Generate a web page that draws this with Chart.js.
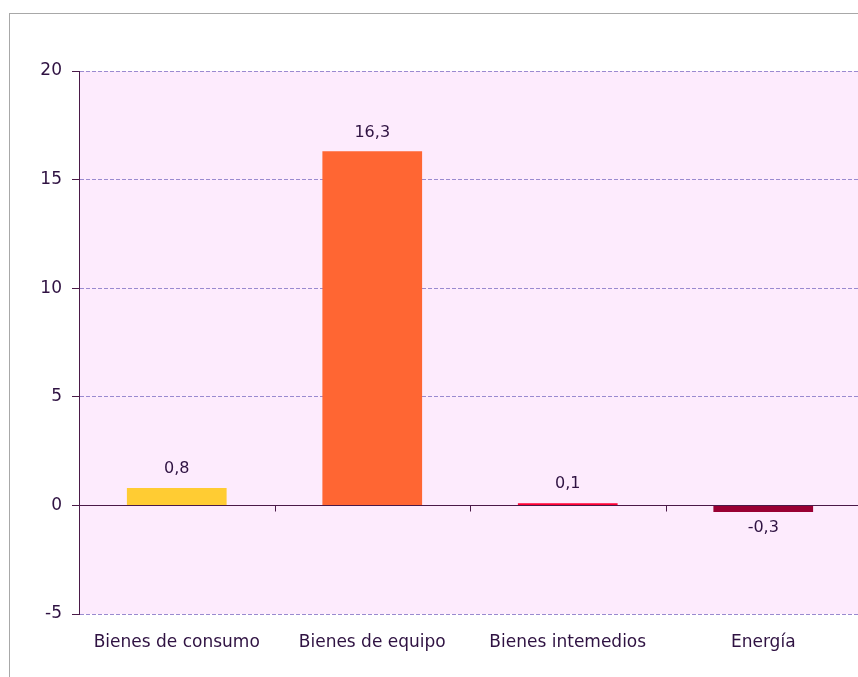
<!DOCTYPE html>
<html>
<head>
<meta charset="utf-8">
<script src="https://cdn.jsdelivr.net/npm/chart.js@4"></script>
<style>
  html, body { margin: 0; padding: 0; background: #fff; overflow: hidden; }
  #frame { position: absolute; left: 9px; top: 13px; width: 900px; height: 700px; border: 1px solid #a8a8a8; }
  #wrap { position: absolute; left: 0; top: 0; width: 875px; height: 677px; }
</style>
</head>
<body>
<div id="frame"></div>
<div id="wrap"><canvas id="chart"></canvas></div>
<script>
const categories = ['Bienes de consumo', 'Bienes de equipo', 'Bienes intemedios', 'Energía'];
const values = [0.8, 16.3, 0.1, -0.3];
const barColors = ['#ffcc33', '#ff6633', '#ff0033', '#990033'];
const yMin = -5, yMax = 20, yStep = 5;

const textColor = '#2f1242';
const axisColor = '#4a1a48';
const gridColor = '#9a8ad0';
const fontFamily = '"DejaVu Sans", Verdana, sans-serif';

// plot background, zero line with category ticks, value labels
const decorations = {
  id: 'decorations',
  beforeDraw(chart) {
    const { ctx, chartArea: a } = chart;
    ctx.save();
    ctx.fillStyle = '#fdebfd';
    ctx.fillRect(a.left, a.top, a.right - a.left, a.bottom - a.top);
    ctx.restore();
  },
  afterDatasetsDraw(chart) {
    const { ctx, chartArea: a } = chart;
    const x = chart.scales.x, y = chart.scales.y;
    const y0 = Math.round(y.getPixelForValue(0)) + 0.5;
    ctx.save();
    ctx.strokeStyle = axisColor;
    ctx.lineWidth = 1;
    ctx.beginPath();
    ctx.moveTo(a.left, y0);
    ctx.lineTo(a.right, y0);
    const half = (x.getPixelForValue(1) - x.getPixelForValue(0)) / 2;
    for (let i = 0; i < categories.length; i++) {
      const bx = Math.round(x.getPixelForValue(i) + half) + 0.5;
      ctx.moveTo(bx, y0);
      ctx.lineTo(bx, y0 + 6);
    }
    ctx.stroke();

    ctx.fillStyle = textColor;
    ctx.font = '16px ' + fontFamily;
    ctx.textAlign = 'center';
    ctx.textBaseline = 'middle';
    chart.getDatasetMeta(0).data.forEach((bar, i) => {
      const v = values[i];
      const label = v.toFixed(1).replace('.', ',');
      const ty = v >= 0 ? bar.y - 19 : bar.y + 16;
      ctx.fillText(label, bar.x, ty);
    });
    ctx.restore();
  }
};

new Chart(document.getElementById('chart'), {
  type: 'bar',
  data: {
    labels: categories,
    datasets: [{
      data: values,
      backgroundColor: barColors,
      borderWidth: 0,
      barPercentage: 1,
      categoryPercentage: 0.51
    }]
  },
  options: {
    responsive: true,
    maintainAspectRatio: false,
    animation: false,
    layout: { padding: { left: 0, top: 71, right: 14, bottom: 0 } },
    plugins: {
      legend: { display: false },
      tooltip: { enabled: false }
    },
    scales: {
      x: {
        grid: { display: false, drawTicks: false },
        border: { display: false },
        ticks: { color: textColor, font: { family: fontFamily, size: 17 }, padding: 18, maxRotation: 0 },
        afterFit: s => { s.height = 63; }
      },
      y: {
        min: yMin,
        max: yMax,
        grid: { color: gridColor, lineWidth: 1, tickLength: 7, tickColor: axisColor },
        border: { display: true, color: axisColor, width: 1, dash: [4, 2] },
        ticks: {
          stepSize: yStep,
          color: textColor,
          padding: 10,
          font: { family: fontFamily, size: 17 },
          callback: v => String(v)
        },
        afterFit: s => { s.width = 79; }
      }
    }
  },
  plugins: [decorations]
});
</script>
</body>
</html>
